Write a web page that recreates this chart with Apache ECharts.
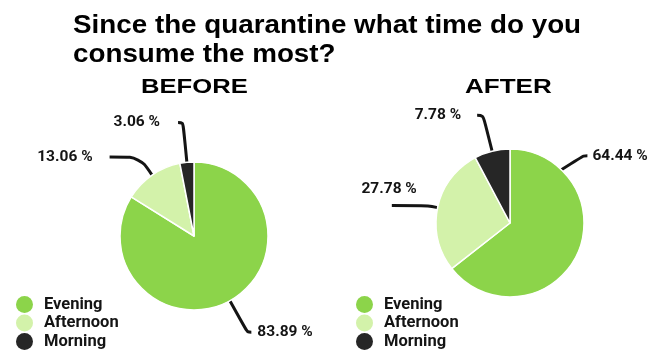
<!DOCTYPE html>
<html>
<head>
<meta charset="utf-8">
<style>html,body{margin:0;padding:0;background:#fff}#c{width:660px;height:364px}</style>
<script src="https://cdn.jsdelivr.net/npm/echarts@6/dist/echarts.min.js"></script>
</head>
<body>
<div id="c"></div>
<script>
var titleText = 'Since the quarantine what time do you\nconsume the most?';
var panelTitles = ['BEFORE', 'AFTER'];
var categories = ['Evening', 'Afternoon', 'Morning'];
var beforeValues = [83.89, 13.06, 3.06];
var afterValues = [64.44, 27.78, 7.78];

var colors = ['#8cd44a', '#d3f2aa', '#262626'];
var ink = '#141414';

var pieRadius = 74;
var beforeCenter = [194, 236];
var afterCenter = [510, 223];

// per-slice label-line tuning (styling only)
var beforeLines = [
  { length: 36, length2: 4, dist: 6 },
  { length: 22, length2: 30, dist: 17 },
  { length: 40, length2: 5, dist: 18 }
];
var afterLines = [
  { length: 10, length2: 5, dist: 5 },
  { length: 10, length2: 36, dist: 5 },
  { length: 37, length2: 6, dist: 16 }
];

function buildData(values, lines) {
  return categories.map(function (name, i) {
    return {
      name: name,
      value: values[i],
      labelLine: { length: lines[i].length, length2: lines[i].length2 },
      label: { distanceToLabelLine: lines[i].dist }
    };
  });
}

// AFTER chart: the "Evening" callout leaves the arc at its upper-right part,
// the "Afternoon" text sits above the end of its callout line.
var afterEveningAnchorDeg = 46;
function afterLabelLayout(params) {
  if (params.dataIndex === 0) {
    var a = afterEveningAnchorDeg * Math.PI / 180;
    var sx = afterCenter[0] + pieRadius * Math.cos(a);
    var sy = afterCenter[1] - pieRadius * Math.sin(a);
    var mx = sx + 22, my = sy - 14;
    var ex = mx + 4, ey = my;
    return {
      x: ex + 5,
      y: ey,
      align: 'left',
      verticalAlign: 'middle',
      labelLinePoints: [[sx, sy], [mx, my], [ex, ey]]
    };
  }
  if (params.dataIndex === 1 && params.labelLinePoints) {
    var pts = params.labelLinePoints;
    var end = pts[pts.length - 1];
    return {
      x: end[0] + 25,
      y: end[1] - 16,
      align: 'right',
      verticalAlign: 'middle',
      labelLinePoints: pts
    };
  }
  return {};
}

function pieSeries(values, lines, center, layoutFn) {
  var s = {
    type: 'pie',
    radius: pieRadius,
    center: center,
    startAngle: 90,
    clockwise: true,
    avoidLabelOverlap: false,
    data: buildData(values, lines),
    itemStyle: { borderColor: '#ffffff', borderWidth: 1.5 },
    label: {
      show: true,
      position: 'outside',
      formatter: function (p) { return p.value.toFixed(2) + ' %'; },
      fontFamily: 'Roboto',
      fontWeight: 'bold',
      fontSize: 15.5,
      color: ink
    },
    labelLine: {
      show: true,
      smooth: 0.35,
      lineStyle: { color: ink, width: 3 }
    },
    emphasis: { disabled: true }
  };
  if (layoutFn) s.labelLayout = layoutFn;
  return s;
}

function legendAt(left) {
  return {
    orient: 'vertical',
    left: left,
    top: 296,
    padding: 0,
    icon: 'circle',
    itemWidth: 17,
    itemHeight: 17,
    itemGap: 1.5,
    itemStyle: { borderWidth: 0 },
    data: categories,
    textStyle: {
      fontFamily: 'Roboto',
      fontWeight: 'bold',
      fontSize: 16.5,
      color: ink,
      padding: [0, 0, 0, 6]
    }
  };
}

function headText(text, x, y, size, sx, lh) {
  return {
    type: 'text',
    x: x,
    y: y,
    scaleX: sx,
    silent: true,
    style: {
      text: text,
      font: 'bold ' + size + 'px "Liberation Sans", Arial, sans-serif',
      fill: '#000',
      lineHeight: lh,
      textVerticalAlign: 'top',
      textAlign: 'left'
    }
  };
}

var chart = echarts.init(document.getElementById('c'));
chart.setOption({
  animation: false,
  color: colors,
  graphic: [
    headText(titleText, 73, 11, 25.5, 1.09, 29),
    headText(panelTitles[0], 141, 77, 21, 1.22, 21),
    headText(panelTitles[1], 465, 77, 21, 1.24, 21)
  ],
  legend: [legendAt(16), legendAt(356)],
  series: [
    pieSeries(beforeValues, beforeLines, beforeCenter),
    pieSeries(afterValues, afterLines, afterCenter, afterLabelLayout)
  ]
});
</script>
</body>
</html>
